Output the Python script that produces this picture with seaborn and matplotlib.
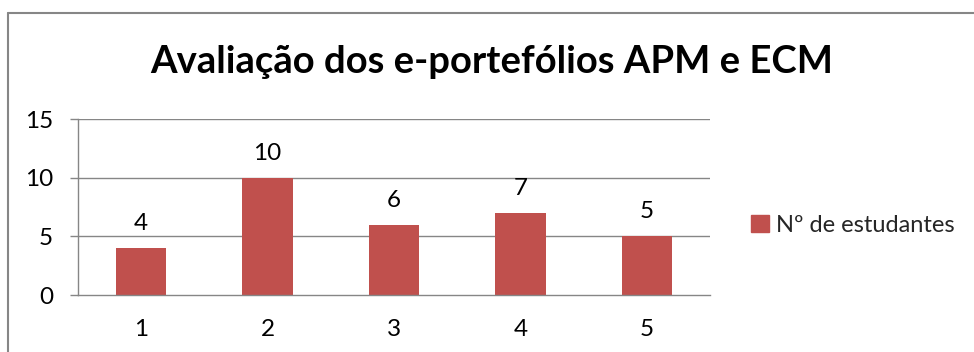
import matplotlib
matplotlib.use("Agg")
import matplotlib.pyplot as plt
import matplotlib.patches as mpatches
import seaborn as sns
import pandas as pd

# Chart data
categories = ["1", "2", "3", "4", "5"]
students = [4, 10, 6, 7, 5]
series_name = "Nº de estudantes"
title = "Avaliação dos e-portefólios APM e ECM"
y_ticks = [0, 5, 10, 15]

bar_color = "#C0504D"
line_gray = "#868686"
label_size = 17.5

sns.set_theme(style="white")
plt.rcParams["font.family"] = ["Lato", "DejaVu Sans"]

df = pd.DataFrame({"cat": categories, "n": students})

DPI = 100
fig = plt.figure(figsize=(9.74, 3.52), dpi=DPI)
W, H = 974, 352

# outer chart-area frame (top and left edges visible)
fig.add_artist(plt.Line2D([8 / W, 8 / W], [0, 1 - 13 / H], color=line_gray, lw=1.5))
fig.add_artist(plt.Line2D([8 / W, 1], [1 - 13 / H, 1 - 13 / H], color=line_gray, lw=1.5))

ax = fig.add_axes([78 / W, 57 / H, 632 / W, 176 / H])
sns.barplot(data=df, x="cat", y="n", color=bar_color, width=0.4,
            saturation=1, ax=ax, linewidth=0)

ax.set_xlim(-0.5, len(categories) - 0.5)
ax.set_ylim(0, 15)
ax.set_yticks(y_ticks)
ax.set_xlabel("")
ax.set_ylabel("")

# horizontal gridlines
for v in y_ticks[1:]:
    ax.axhline(v, color=line_gray, lw=1, zorder=0)

for s in ["top", "right"]:
    ax.spines[s].set_visible(False)
for s in ["left", "bottom"]:
    ax.spines[s].set_color(line_gray)
    ax.spines[s].set_linewidth(1)

# tick marks between categories, labels centred under bars
ax.set_xticks([i - 0.5 for i in range(len(categories) + 1)], minor=True)
ax.tick_params(axis="x", which="minor", length=6, width=1, color=line_gray, direction="out")
ax.tick_params(axis="x", which="major", length=0, pad=17, labelsize=label_size, labelcolor="black")
ax.tick_params(axis="y", which="major", left=True, length=6, width=1, color=line_gray,
               direction="out", pad=12, labelsize=label_size, labelcolor="black")

# value labels above bars
for i, v in enumerate(students):
    ax.annotate(str(v), (i, v), xytext=(0, 13), textcoords="offset points",
                ha="center", va="baseline", fontsize=label_size, color="black")

fig.text(492 / W, 1 - 73 / H, title, ha="center", va="baseline",
         fontsize=27.5, fontweight="bold", color="black")

handle = mpatches.Patch(color=bar_color)
fig.legend([handle], [series_name], loc="center left",
           bbox_to_anchor=(742 / W, 1 - 225 / H), frameon=False, fontsize=17,
           handlelength=0.75, handleheight=0.75, handletextpad=0.3, borderaxespad=0)

fig.savefig("out.png", dpi=DPI)
